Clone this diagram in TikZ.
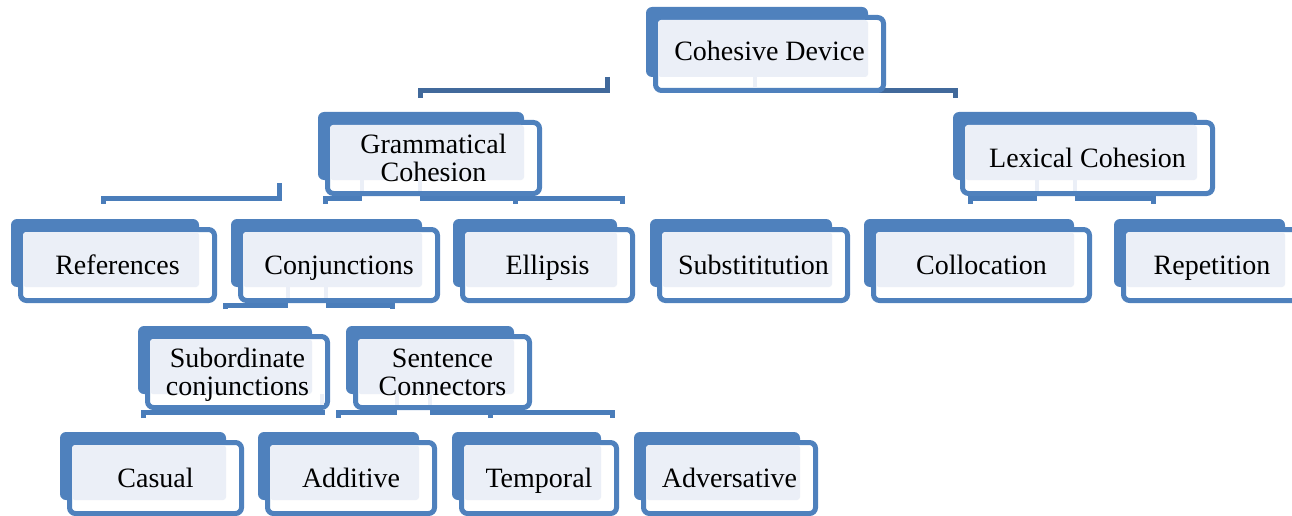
\documentclass[tikz,border=0pt]{standalone}
\usepackage{fontspec}
\setmainfont{Liberation Serif}
\definecolor{backblue}{HTML}{4F81BD}
\definecolor{lightfill}{HTML}{EBEFF7}
\definecolor{topline}{HTML}{41699B}
\definecolor{midline}{HTML}{4A7DBA}
\tikzset{
  backrect/.style={fill=backblue, rounded corners=6pt},
  frontrect/.style={draw=backblue, fill=white, line width=5pt, rounded corners=6pt},
  lightrect/.style={fill=lightfill, rounded corners=3pt},
  boxtext/.style={font=\fontsize{28}{28}\selectfont, inner sep=0pt, align=center, text depth=0pt},
  oneline/.style={boxtext, text height=18.5pt},
  twoline/.style={boxtext, text height=46.5pt},
  conn/.style={draw=midline, line width=5pt},
  topconn/.style={draw=topline, line width=5pt},
  stub/.style={fill=lightfill},
}
% name, x0, y0, w, h, text style, text
\newcommand\cdbox[7]{%
  \fill[backrect] (#2,#3) rectangle ++(#4,#5);
  \draw[frontrect] ({#2+9.5},{#3+10.5}) rectangle ({#2+#4+15.5},{#3+#5+13.5});
  \fill[lightrect] ({#2+12},{#3+13}) rectangle ({#2+#4},{#3+#5});
  \node[#6] (#1) at ({#2+(#4+25)/2},{#3+(#5+24)/2}) {#7};
}
\newcommand\cdstub[3]{% x, ytop, ybottom
  \fill[stub] ({#1-2},#2) rectangle ({#1+2},#3);
}
\begin{document}
\begin{tikzpicture}[x=1pt,y=-1pt]
\useasboundingbox (0,0) rectangle (1292,516);
% connectors
\draw[topconn] (607,77) -- (607,91) -- (420,91) -- (420,98);
\draw[topconn] (755,91) -- (955,91) -- (955,98);
\draw[conn] (279,183) -- (279,198) -- (103,198) -- (103,204);
\draw[conn] (325,204) -- (325,198) -- (362,198);
\draw[conn] (420,198) -- (622,198) -- (622,204);
\draw[conn] (515,198) -- (515,204);
\draw[conn] (970,204) -- (970,198) -- (1037,198);
\draw[conn] (1075,198) -- (1153,198) -- (1153,204);
\draw[conn] (225,309) -- (225,305) -- (288,305);
\draw[conn] (326,305) -- (392,305) -- (392,309);
\draw[conn] (143,418) -- (143,412) -- (325,412);
\draw[conn] (338,418) -- (338,412) -- (397,412);
\draw[conn] (430,412) -- (612,412) -- (612,418);
\draw[conn] (490,412) -- (490,418);
% boxes
\cdbox{cohesive}{646}{7}{222}{70}{oneline, yshift=3pt}{Cohesive Device}
\cdbox{gram}{318}{112}{206}{68}{twoline}{Grammatical\\Cohesion}
\cdbox{lex}{953}{112}{244}{68}{oneline}{Lexical Cohesion}
\cdbox{ref}{11}{219}{188}{68}{oneline}{References}
\cdbox{conj}{231}{219}{191}{68}{oneline}{Conjunctions}
\cdbox{ell}{453}{219}{164}{68}{oneline}{Ellipsis}
\cdbox{subst}{650}{219}{182}{68}{oneline}{Substititution}
\cdbox{coll}{864}{219}{210}{68}{oneline}{Collocation}
\cdbox{rep}{1114}{219}{171}{68}{oneline}{Repetition}
\cdbox{sub}{138}{326}{174}{68}{twoline}{Subordinate\\conjunctions}
\cdbox{sent}{346}{326}{168}{68}{twoline}{Sentence\\Connectors}
\cdbox{cas}{60}{432}{166}{68}{oneline}{Casual}
\cdbox{add}{258}{432}{161}{68}{oneline}{Additive}
\cdbox{temp}{452}{432}{149}{68}{oneline}{Temporal}
\cdbox{adv}{634}{432}{166}{68}{oneline}{Adversative}
% light stubs
\cdstub{755}{77}{88}
\cdstub{362}{180}{191}
\cdstub{420}{180}{191}
\cdstub{1037}{180}{191}
\cdstub{1075}{180}{191}
\cdstub{288}{287}{298}
\cdstub{326}{287}{298}
\cdstub{322}{394}{405}
\cdstub{397}{394}{405}
\cdstub{430}{394}{405}
\end{tikzpicture}
\end{document}
